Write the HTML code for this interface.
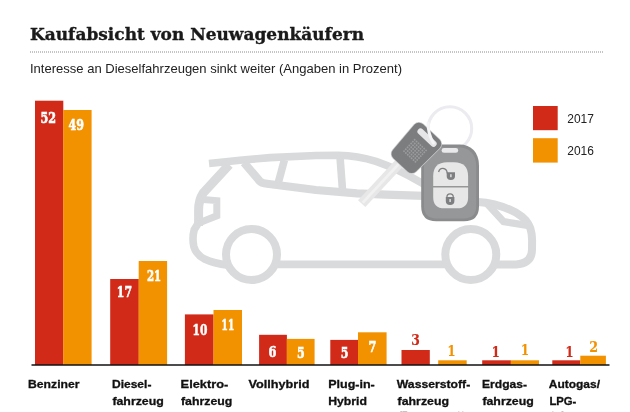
<!DOCTYPE html>
<html lang="de">
<head>
<meta charset="utf-8">
<title>Kaufabsicht von Neuwagenkäufern</title>
<style>
html,body{margin:0;padding:0;background:#fff;}
body{width:630px;height:412px;overflow:hidden;}
svg{display:block;}
.title{font-family:"DejaVu Serif","Liberation Serif",serif;font-weight:bold;font-size:16.5px;fill:#1a1a1a;stroke:#1a1a1a;stroke-width:.35px;}
.sub{font-family:"Liberation Sans",sans-serif;font-size:13px;fill:#222;}
.leg{font-family:"Liberation Sans",sans-serif;font-size:12.3px;fill:#222;}
.lab{font-family:"Liberation Sans",sans-serif;font-weight:bold;font-size:11.5px;fill:#111;stroke:#111;stroke-width:.3px;}
.num{font-family:"DejaVu Serif","Liberation Serif",serif;font-weight:bold;font-size:14.5px;}
.w{fill:#fff;stroke:#fff;stroke-width:.6px;}
.r{fill:#d12a19;}
text.r{stroke:#d12a19;stroke-width:.2px;}
.o{fill:#f39200;}
text.o{stroke:#f39200;stroke-width:.2px;}
</style>
</head>
<body>
<svg width="630" height="412" viewBox="0 0 630 412">
<rect width="630" height="412" fill="#fff"/>

<!-- header -->
<text class="title" x="30" y="40.2" textLength="334" lengthAdjust="spacingAndGlyphs">Kaufabsicht von Neuwagenkäufern</text>
<line x1="30" y1="52" x2="604" y2="52" stroke="#8a8a8a" stroke-width="1" stroke-dasharray="1 1"/>
<text class="sub" x="30" y="72.5" textLength="372" lengthAdjust="spacingAndGlyphs">Interesse an Dieselfahrzeugen sinkt weiter (Angaben in Prozent)</text>

<!-- car illustration -->
<g id="car" fill="none" stroke="#d9dadb" stroke-width="7.6" stroke-linejoin="miter" stroke-linecap="butt">
  <!-- roof + windshield -->
  <path d="M209 163.5 L240 160.2 L270 157.6 L316 155.5 L338 155.3 Q358 155.8 376 161.4 Q398 169 420 182 L427 186"/>
  <!-- rear line -->
  <path d="M229.3 164.6 L203.2 193 Q198.6 200 198.6 210 L198.6 226" stroke-width="9"/>
  <!-- c pillar + beltline -->
  <path d="M244 162.6 L259.6 181 Q261.6 183.2 267 183.8 L316 190 L357 193.4 L386 194.6 L424 195.8" stroke-width="8.2"/>
  <!-- pillars -->
  <path d="M284.4 160 L278.2 183"/>
  <path d="M340 157 L342.6 191"/>
  <!-- tail light -->
  <path d="M203 199.4 L216.8 200.6 L216.8 215.8 L200 222.4" stroke-width="7"/>
  <!-- rear bumper -->
  <path d="M199 222 L194.2 229.8 Q192 238 193.8 246.4 Q196 254.4 204.4 259 Q214 263.4 228 265.2"/>
  <!-- sill -->
  <path d="M277 264.4 L446 264.4"/>
  <!-- wheels -->
  <circle cx="251.5" cy="254.5" r="25.5" stroke-width="8"/>
  <circle cx="470.8" cy="254.5" r="25.5" stroke-width="8"/>
  <!-- front -->
  <path d="M496 264.4 L516 264.4 Q531.6 263.6 532 250 L532.1 240.2 L531.6 233.8 Q530.8 228 528.8 224.8 Q526 220 522.2 216.9 Q516 212 510.2 209.8 Q502 206.4 494.4 204.4 Q486 202.4 478 202" stroke-width="8"/>
  <path d="M487 203.6 L503.6 221.6 L529 225.6" stroke-width="7.2"/>
</g>

<!-- key ring -->
<circle cx="449.9" cy="128.6" r="21.8" fill="none" stroke="#ebebf0" stroke-width="3"/>

<!-- key fob -->
<path d="M440.5 144.6 H459.7 C471 144.6 479 152.6 479 165.4 V206.2 Q479 221.2 464 221.2 H436.2 Q421.2 221.2 421.2 206.2 V165.4 C421.2 152.6 429.4 144.6 440.5 144.6 Z" fill="#8a8b8c"/>
<path d="M441 147.4 H459.2 C469.4 147.4 476.2 154.4 476.2 165.6 V206 Q476.2 218.4 463.8 218.4 H436.4 Q424 218.4 424 206 V165.6 C424 154.4 431 147.4 441 147.4 Z" fill="#969798"/>
<rect x="441.6" y="148" width="16.6" height="4.8" rx="2.4" ry="2.4" fill="#e9e9eb"/>
<path d="M433.2 185.9 V176.3 Q433.2 162.3 447.2 162.3 H454.1 Q468.1 162.3 468.1 176.3 V185.9 Z" fill="#e7e7e8"/>
<path d="M433.2 187.5 V197.2 Q433.2 208.3 444.3 208.3 H457 Q468.1 208.3 468.1 197.2 V187.5 Z" fill="#e7e7e8"/>
<!-- unlocked icon -->
<path d="M446.7 172.2 H455 V176 Q455 179.9 450.85 179.9 Q446.7 179.9 446.7 176 Z" fill="#7e7f80"/>
<path d="M438.6 172 Q439.6 168.2 443 168.4 Q446.8 168.8 447.3 173.4" fill="none" stroke="#7e7f80" stroke-width="1.3"/>
<rect x="450.2" y="174.2" width="1.4" height="3" fill="#e7e7e8"/>
<!-- locked icon -->
<path d="M445.8 196.9 H454.4 V200.9 Q454.4 205 450.1 205 Q445.8 205 445.8 200.9 Z" fill="#7e7f80"/>
<path d="M446.9 197.4 Q446.9 193.9 450.1 193.9 Q453.3 193.9 453.3 197.4" fill="none" stroke="#7e7f80" stroke-width="1.3"/>
<rect x="449.4" y="199" width="1.4" height="3" fill="#e7e7e8"/>

<!-- key -->
<g transform="translate(415 147.6) rotate(133)">
  <!-- blade (local x axis points down-left along the key) -->
  <rect x="20" y="-4.2" width="57.3" height="10" fill="#e7e7e8"/>
  <rect x="20" y="-0.7" width="56" height="2.8" fill="#f1f1f2"/>
  <!-- head -->
  <path d="M-16.5 -12.4 L-16.5 10 L16.5 8.5 L16.5 -10.9 Z" fill="#7c7d7e" stroke="#c9cacb" stroke-width="13.4" stroke-linejoin="round"/>
  <path d="M-16.5 -12.4 L-16.5 10 L16.5 8.5 L16.5 -10.9 Z" fill="#7c7d7e" stroke="#7c7d7e" stroke-width="12" stroke-linejoin="round"/>
  <g fill="#9b9c9d">
    <circle cx="-5.5" cy="-10.0" r="0.95"/><circle cx="-2.9" cy="-10.0" r="0.95"/><circle cx="-0.3" cy="-10.0" r="0.95"/><circle cx="2.3" cy="-10.0" r="0.95"/><circle cx="4.9" cy="-10.0" r="0.95"/><circle cx="7.5" cy="-10.0" r="0.95"/><circle cx="10.1" cy="-10.0" r="0.95"/>
    <circle cx="-5.5" cy="-7.4" r="0.95"/><circle cx="-2.9" cy="-7.4" r="0.95"/><circle cx="-0.3" cy="-7.4" r="0.95"/><circle cx="2.3" cy="-7.4" r="0.95"/><circle cx="4.9" cy="-7.4" r="0.95"/><circle cx="7.5" cy="-7.4" r="0.95"/><circle cx="10.1" cy="-7.4" r="0.95"/>
    <circle cx="-5.5" cy="-4.8" r="0.95"/><circle cx="-2.9" cy="-4.8" r="0.95"/><circle cx="-0.3" cy="-4.8" r="0.95"/><circle cx="2.3" cy="-4.8" r="0.95"/><circle cx="4.9" cy="-4.8" r="0.95"/><circle cx="7.5" cy="-4.8" r="0.95"/><circle cx="10.1" cy="-4.8" r="0.95"/>
    <circle cx="-5.5" cy="-2.2" r="0.95"/><circle cx="-2.9" cy="-2.2" r="0.95"/><circle cx="-0.3" cy="-2.2" r="0.95"/><circle cx="2.3" cy="-2.2" r="0.95"/><circle cx="4.9" cy="-2.2" r="0.95"/><circle cx="7.5" cy="-2.2" r="0.95"/><circle cx="10.1" cy="-2.2" r="0.95"/>
    <circle cx="-5.5" cy="0.4" r="0.95"/><circle cx="-2.9" cy="0.4" r="0.95"/><circle cx="-0.3" cy="0.4" r="0.95"/><circle cx="2.3" cy="0.4" r="0.95"/><circle cx="4.9" cy="0.4" r="0.95"/><circle cx="7.5" cy="0.4" r="0.95"/><circle cx="10.1" cy="0.4" r="0.95"/>
    <circle cx="-5.5" cy="3.0" r="0.95"/><circle cx="-2.9" cy="3.0" r="0.95"/><circle cx="-0.3" cy="3.0" r="0.95"/><circle cx="2.3" cy="3.0" r="0.95"/><circle cx="4.9" cy="3.0" r="0.95"/><circle cx="7.5" cy="3.0" r="0.95"/><circle cx="10.1" cy="3.0" r="0.95"/>
    <circle cx="-5.5" cy="5.6" r="0.95"/><circle cx="-2.9" cy="5.6" r="0.95"/><circle cx="-0.3" cy="5.6" r="0.95"/><circle cx="2.3" cy="5.6" r="0.95"/><circle cx="4.9" cy="5.6" r="0.95"/><circle cx="7.5" cy="5.6" r="0.95"/><circle cx="10.1" cy="5.6" r="0.95"/>
  </g>
  <rect x="-18.6" y="-14" width="6.2" height="24" rx="3.1" ry="3.1" fill="#e6e6e8"/>
</g>
<!-- ring piece in front of key head -->
<path d="M428.1 123 Q427.8 133.4 433.4 143" fill="none" stroke="#f4f4f7" stroke-width="3" stroke-linecap="round"/>

<!-- legend -->
<rect x="533" y="106" width="24.7" height="24.2" class="r"/>
<rect x="533" y="138.2" width="24.7" height="24.4" class="o"/>
<text class="leg" x="567.3" y="122.8" textLength="26.6" lengthAdjust="spacingAndGlyphs">2017</text>
<text class="leg" x="567.3" y="154.8" textLength="26.6" lengthAdjust="spacingAndGlyphs">2016</text>

<!-- bars -->
<g>
<rect class="r" x="35" y="100.7" width="28.3" height="264.3"/>
<rect class="o" x="63.2" y="110" width="28.4" height="255"/>
<rect class="r" x="110.2" y="279" width="28.6" height="86"/>
<rect class="o" x="138.7" y="261" width="28.4" height="104"/>
<rect class="r" x="184.9" y="314.4" width="28.7" height="50.6"/>
<rect class="o" x="213.5" y="310" width="28.5" height="55"/>
<rect class="r" x="259.1" y="334.8" width="27.8" height="30.2"/>
<rect class="o" x="286.8" y="338.9" width="27.8" height="26.1"/>
<rect class="r" x="330.3" y="339.9" width="27.8" height="25.1"/>
<rect class="o" x="358" y="332.3" width="28.6" height="32.7"/>
<rect class="r" x="401.5" y="350" width="28.3" height="15"/>
<rect class="o" x="438.2" y="360.3" width="28.5" height="4.7"/>
<rect class="r" x="482.2" y="360.3" width="28.7" height="4.7"/>
<rect class="o" x="510.8" y="360.3" width="28.2" height="4.7"/>
<rect class="r" x="552.3" y="360.3" width="28.1" height="4.7"/>
<rect class="o" x="580.3" y="355.7" width="25.6" height="9.3"/>
</g>
<line x1="31.5" y1="365" x2="609.5" y2="365" stroke="#111" stroke-width="1.3"/>

<!-- values -->
<g class="num">
<text class="w" x="40.4" y="122.6" textLength="15.6" lengthAdjust="spacingAndGlyphs">52</text>
<text class="w" x="68.6" y="130.2" textLength="15.4" lengthAdjust="spacingAndGlyphs">49</text>
<text class="w" x="116.8" y="297.3" textLength="15.2" lengthAdjust="spacingAndGlyphs">17</text>
<text class="w" x="146.9" y="281" textLength="14.2" lengthAdjust="spacingAndGlyphs">21</text>
<text class="w" x="192.5" y="334.5" textLength="14.8" lengthAdjust="spacingAndGlyphs">10</text>
<text class="w" x="221.6" y="330.2" textLength="12.6" lengthAdjust="spacingAndGlyphs">11</text>
<text class="w" x="268.5" y="356.8" textLength="7.9" lengthAdjust="spacingAndGlyphs">6</text>
<text class="w" x="297.1" y="358.2" textLength="7.7" lengthAdjust="spacingAndGlyphs">5</text>
<text class="w" x="340.7" y="357.9" textLength="7.7" lengthAdjust="spacingAndGlyphs">5</text>
<text class="w" x="368.5" y="352.2" textLength="7.9" lengthAdjust="spacingAndGlyphs">7</text>
<text class="r" x="411.3" y="344.8" textLength="8.6" lengthAdjust="spacingAndGlyphs">3</text>
<text class="o" x="447.5" y="355.7" textLength="8" lengthAdjust="spacingAndGlyphs">1</text>
<text class="r" x="491.8" y="356.5" textLength="8" lengthAdjust="spacingAndGlyphs">1</text>
<text class="o" x="520.9" y="355.2" textLength="8" lengthAdjust="spacingAndGlyphs">1</text>
<text class="r" x="565.4" y="356.8" textLength="8" lengthAdjust="spacingAndGlyphs">1</text>
<text class="o" x="589.3" y="351.6" textLength="8.8" lengthAdjust="spacingAndGlyphs">2</text>
</g>

<!-- category labels -->
<g class="lab">
<text x="28" y="388.2" textLength="51.5" lengthAdjust="spacingAndGlyphs">Benziner</text>
<text x="112" y="388.2" textLength="39.4" lengthAdjust="spacingAndGlyphs">Diesel-</text>
<text x="112.4" y="404.6" textLength="51.4" lengthAdjust="spacingAndGlyphs">fahrzeug</text>
<text x="180.6" y="388.2" textLength="47.8" lengthAdjust="spacingAndGlyphs">Elektro-</text>
<text x="181" y="404.6" textLength="51.4" lengthAdjust="spacingAndGlyphs">fahrzeug</text>
<text x="248.4" y="388.2" textLength="61" lengthAdjust="spacingAndGlyphs">Vollhybrid</text>
<text x="328.2" y="388.2" textLength="46.6" lengthAdjust="spacingAndGlyphs">Plug-in-</text>
<text x="328.2" y="404.6" textLength="38.8" lengthAdjust="spacingAndGlyphs">Hybrid</text>
<text x="396.8" y="388.2" textLength="73.4" lengthAdjust="spacingAndGlyphs">Wasserstoff-</text>
<text x="397.6" y="404.6" textLength="51.4" lengthAdjust="spacingAndGlyphs">fahrzeug</text>
<text x="398" y="419.8" textLength="70" lengthAdjust="spacingAndGlyphs">(Brennstoff-</text>
<text x="482" y="388.2" textLength="45" lengthAdjust="spacingAndGlyphs">Erdgas-</text>
<text x="482.4" y="404.6" textLength="51.4" lengthAdjust="spacingAndGlyphs">fahrzeug</text>
<text x="548.8" y="388.2" textLength="51.2" lengthAdjust="spacingAndGlyphs">Autogas/</text>
<text x="549.4" y="404.6" textLength="27" lengthAdjust="spacingAndGlyphs">LPG-</text>
<text x="549.8" y="419.8" textLength="51.4" lengthAdjust="spacingAndGlyphs">fahrzeug</text>
</g>
</svg>
</body>
</html>
